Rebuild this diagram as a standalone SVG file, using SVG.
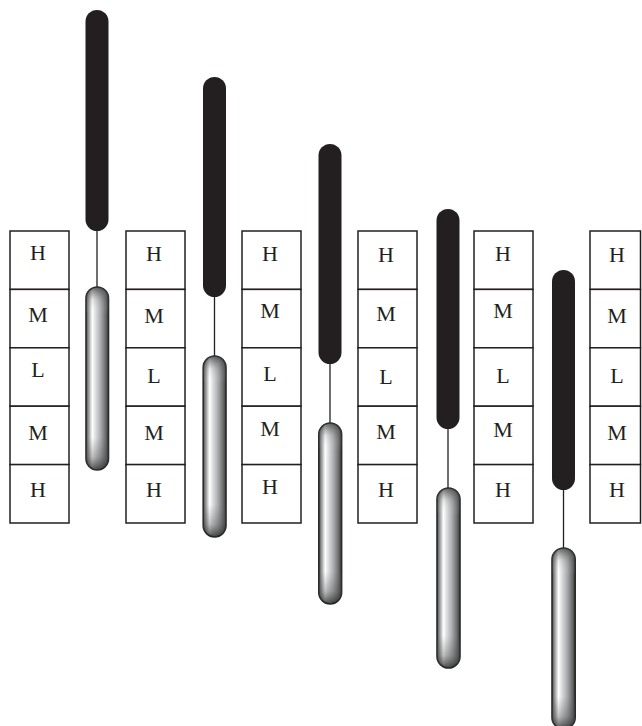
<svg xmlns="http://www.w3.org/2000/svg" width="642" height="726" viewBox="0 0 642 726">
<style>
.box{fill:#fff;stroke:#231f20;stroke-width:1.5}
.lbl{font-family:"Liberation Serif","Times New Roman",serif;font-size:22px;fill:#231f20;text-anchor:middle}
.blk{fill:#231f20}
.grad{fill:url(#hg);stroke:#2a2a2a;stroke-width:1.6}
.shade{fill:url(#vg)}
.conn{stroke:#231f20;stroke-width:1.3;fill:none}
</style>
<defs>
<linearGradient id="hg" x1="0" y1="0" x2="1" y2="0">
<stop offset="0" stop-color="#4a4a4a"/>
<stop offset="0.12" stop-color="#9a9a9a"/>
<stop offset="0.28" stop-color="#ffffff"/>
<stop offset="0.42" stop-color="#dcdee0"/>
<stop offset="0.65" stop-color="#a9abae"/>
<stop offset="0.86" stop-color="#707070"/>
<stop offset="1" stop-color="#3a3a3a"/>
</linearGradient>
<linearGradient id="vg" x1="0" y1="0" x2="0" y2="1">
<stop offset="0" stop-color="#333" stop-opacity="0.75"/>
<stop offset="0.07" stop-color="#666" stop-opacity="0.15"/>
<stop offset="0.15" stop-color="#fff" stop-opacity="0"/>
<stop offset="0.82" stop-color="#555" stop-opacity="0"/>
<stop offset="0.93" stop-color="#444" stop-opacity="0.35"/>
<stop offset="1" stop-color="#222" stop-opacity="0.8"/>
</linearGradient>
</defs>

<g id="col1">
<rect class="box" x="10" y="231" width="59" height="58.4"/>
<rect class="box" x="10" y="289.4" width="59" height="58.4"/>
<rect class="box" x="10" y="347.8" width="59" height="58.4"/>
<rect class="box" x="10" y="406.2" width="59" height="58.4"/>
<rect class="box" x="10" y="464.6" width="59" height="58.4"/>
<text class="lbl" x="38" y="260">H</text>
<text class="lbl" x="38" y="322">M</text>
<text class="lbl" x="38" y="377">L</text>
<text class="lbl" x="38" y="440">M</text>
<text class="lbl" x="38" y="497">H</text>
</g>
<g id="col2">
<rect class="box" x="126" y="231" width="59" height="58.4"/>
<rect class="box" x="126" y="289.4" width="59" height="58.4"/>
<rect class="box" x="126" y="347.8" width="59" height="58.4"/>
<rect class="box" x="126" y="406.2" width="59" height="58.4"/>
<rect class="box" x="126" y="464.6" width="59" height="58.4"/>
<text class="lbl" x="154" y="261">H</text>
<text class="lbl" x="154" y="323">M</text>
<text class="lbl" x="154" y="383">L</text>
<text class="lbl" x="154" y="440">M</text>
<text class="lbl" x="154" y="497">H</text>
</g>
<g id="col3">
<rect class="box" x="242" y="231" width="59" height="58.4"/>
<rect class="box" x="242" y="289.4" width="59" height="58.4"/>
<rect class="box" x="242" y="347.8" width="59" height="58.4"/>
<rect class="box" x="242" y="406.2" width="59" height="58.4"/>
<rect class="box" x="242" y="464.6" width="59" height="58.4"/>
<text class="lbl" x="270" y="261">H</text>
<text class="lbl" x="270" y="318">M</text>
<text class="lbl" x="270" y="381">L</text>
<text class="lbl" x="270" y="436">M</text>
<text class="lbl" x="270" y="494">H</text>
</g>
<g id="col4">
<rect class="box" x="358" y="231" width="59" height="58.4"/>
<rect class="box" x="358" y="289.4" width="59" height="58.4"/>
<rect class="box" x="358" y="347.8" width="59" height="58.4"/>
<rect class="box" x="358" y="406.2" width="59" height="58.4"/>
<rect class="box" x="358" y="464.6" width="59" height="58.4"/>
<text class="lbl" x="386" y="262">H</text>
<text class="lbl" x="386" y="321">M</text>
<text class="lbl" x="386" y="384">L</text>
<text class="lbl" x="386" y="439">M</text>
<text class="lbl" x="386" y="497">H</text>
</g>
<g id="col5">
<rect class="box" x="474" y="231" width="59" height="58.4"/>
<rect class="box" x="474" y="289.4" width="59" height="58.4"/>
<rect class="box" x="474" y="347.8" width="59" height="58.4"/>
<rect class="box" x="474" y="406.2" width="59" height="58.4"/>
<rect class="box" x="474" y="464.6" width="59" height="58.4"/>
<text class="lbl" x="503" y="261">H</text>
<text class="lbl" x="503" y="318">M</text>
<text class="lbl" x="503" y="383">L</text>
<text class="lbl" x="503" y="437">M</text>
<text class="lbl" x="503" y="497">H</text>
</g>
<g id="col6">
<rect class="box" x="590" y="231" width="50.5" height="58.4"/>
<rect class="box" x="590" y="289.4" width="50.5" height="58.4"/>
<rect class="box" x="590" y="347.8" width="50.5" height="58.4"/>
<rect class="box" x="590" y="406.2" width="50.5" height="58.4"/>
<rect class="box" x="590" y="464.6" width="50.5" height="58.4"/>
<text class="lbl" x="617" y="262">H</text>
<text class="lbl" x="617" y="323">M</text>
<text class="lbl" x="617" y="383">L</text>
<text class="lbl" x="617" y="440">M</text>
<text class="lbl" x="617" y="497">H</text>
</g>

<g id="connectors">
<line class="conn" x1="97" y1="230" x2="97" y2="288"/>
<line class="conn" x1="214.5" y1="296" x2="214.5" y2="357"/>
<line class="conn" x1="330" y1="363" x2="330" y2="424"/>
<line class="conn" x1="448" y1="428" x2="448" y2="489"/>
<line class="conn" x1="563.5" y1="489" x2="563.5" y2="549"/>
</g>

<g id="bar1">
<rect class="blk" x="85.5" y="10" width="23" height="221" rx="11.5"/>
<rect class="grad" x="86" y="287" width="22.5" height="183" rx="11.25"/>
<rect class="shade" x="86" y="287" width="22.5" height="183" rx="11.25"/>
</g>
<g id="bar2">
<rect class="blk" x="203" y="77" width="23" height="220" rx="11.5"/>
<rect class="grad" x="203.2" y="356" width="22.8" height="181" rx="11.4"/>
<rect class="shade" x="203.2" y="356" width="22.8" height="181" rx="11.4"/>
</g>
<g id="bar3">
<rect class="blk" x="318.5" y="144" width="23" height="220" rx="11.5"/>
<rect class="grad" x="318.8" y="423" width="22.8" height="181" rx="11.4"/>
<rect class="shade" x="318.8" y="423" width="22.8" height="181" rx="11.4"/>
</g>
<g id="bar4">
<rect class="blk" x="436.5" y="209" width="23" height="220" rx="11.5"/>
<rect class="grad" x="437" y="488" width="23" height="180" rx="11.5"/>
<rect class="shade" x="437" y="488" width="23" height="180" rx="11.5"/>
</g>
<g id="bar5">
<rect class="blk" x="552" y="270" width="23" height="220" rx="11.5"/>
<rect class="grad" x="552" y="548" width="23.2" height="181" rx="11.6"/>
<rect class="shade" x="552" y="548" width="23.2" height="181" rx="11.6"/>
</g>
</svg>
